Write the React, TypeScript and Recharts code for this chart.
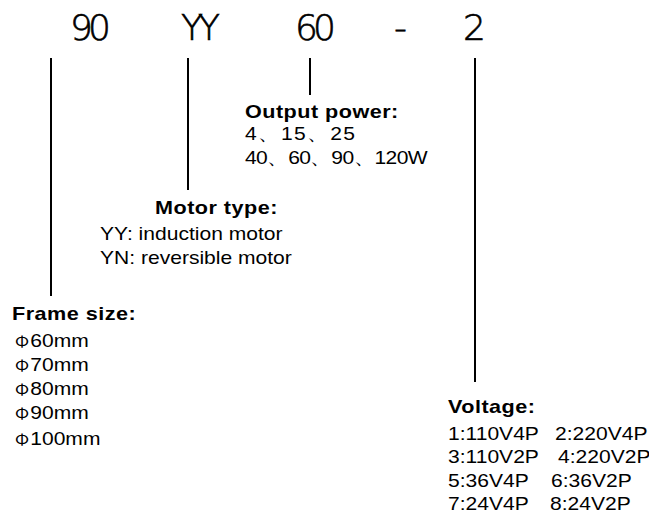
import React from "react";
import { ScatterChart, Scatter, XAxis, YAxis, ReferenceLine } from "recharts";

const WIDTH = 649;
const HEIGHT = 522;

// model code across the top
const codeParts = ["90", "YY", "60", "-", "2"];
const codeX = [88, 198, 313, 398, 472];
const codeY = [40, 40, 40, 40, 40];

// vertical leaders from each code part
const leaderX = [51, 188, 310, 475];
const leaderTop = [58, 58, 58, 58];
const leaderBottom = [296, 190, 95, 382];

const headings = ["Output power:", "Motor type:", "Frame size:", "Voltage:"];
const headingX = [245, 155, 12, 448];
const headingY = [118, 214, 320, 413];

const powerSmall = ["4、15、25"];
const powerLarge = ["40、60、90、120W"];
const motorLines = ["YY: induction motor", "YN: reversible motor"];
const frameSizes = ["60mm", "70mm", "80mm", "90mm", "100mm"];
const voltageLeft = ["1:110V4P", "3:110V2P", "5:36V4P", "7:24V4P"];
const voltageRight = ["2:220V4P", "4:220V2P", "6:36V2P", "8:24V2P"];

const powerY = [140, 164];
const motorY = [240, 264];
const frameY = [347, 371, 395, 419, 445];
const voltageY = [440, 463, 487, 510];
const voltageRightX = [555, 558, 551, 550];

const bodyFont = "'Liberation Sans', Arial, sans-serif";
const STRETCH = 1.17;

const codeData = codeParts.map((text, i) => ({ x: codeX[i], y: codeY[i], text }));
const headingData = headings.map((text, i) => ({ x: headingX[i], y: headingY[i], text }));
const powerSmallData = powerSmall.map((text) => ({ x: 245, y: powerY[0], text }));
const powerLargeData = powerLarge.map((text) => ({ x: 245, y: powerY[1], text }));
const bodyData = [
  ...motorLines.map((text, i) => ({ x: 100, y: motorY[i], text })),
  ...voltageLeft.map((text, i) => ({ x: 448, y: voltageY[i], text })),
  ...voltageRight.map((text, i) => ({ x: voltageRightX[i], y: voltageY[i], text })),
];
const frameData = frameSizes.map((text, i) => ({ x: 15, y: frameY[i], text }));

function CodeText(props: any) {
  const { cx, cy, payload } = props;
  return (
    <text
      x={cx}
      y={cy}
      textAnchor="middle"
      fontFamily="'DejaVu Sans', sans-serif"
      fontWeight={200}
      fontSize={36}
      letterSpacing={-5}
      fill="#000"
      stroke="#000"
      strokeWidth={0.6}
    >
      {payload.text}
    </text>
  );
}

function stretched(cx: number, cy: number, scale = STRETCH) {
  return `translate(${cx},${cy}) scale(${scale},1)`;
}

function HeadingText(props: any) {
  const { cx, cy, payload } = props;
  return (
    <text
      transform={stretched(cx, cy, 1.2)}
      fontFamily={bodyFont}
      fontWeight="bold"
      fontSize={18}
      letterSpacing={0.4}
      fill="#000"
    >
      {payload.text}
    </text>
  );
}

function BodyText(props: any) {
  const { cx, cy, payload } = props;
  return (
    <text transform={stretched(cx, cy)} fontFamily={bodyFont} fontSize={18} fill="#000">
      {payload.text}
    </text>
  );
}

function PowerSmallText(props: any) {
  const { cx, cy, payload } = props;
  return (
    <text transform={stretched(cx, cy)} fontFamily={bodyFont} fontSize={18} letterSpacing={1.2} fill="#000">
      {payload.text}
    </text>
  );
}

function PowerLargeText(props: any) {
  const { cx, cy, payload } = props;
  return (
    <text transform={stretched(cx, cy)} fontFamily={bodyFont} fontSize={18} letterSpacing={-0.5} fill="#000">
      {payload.text}
    </text>
  );
}

function FrameText(props: any) {
  const { cx, cy, payload } = props;
  return (
    <text transform={stretched(cx, cy)} fontFamily={bodyFont} fontSize={18} fill="#000">
      <tspan fontFamily="'Noto Sans CJK SC', sans-serif" fontSize={15}>
        Φ
      </tspan>
      <tspan dx={1}>{payload.text}</tspan>
    </text>
  );
}

export default function App() {
  return (
    <div style={{ position: "absolute", left: 0, top: 0, background: "#fff" }}>
      <ScatterChart width={WIDTH} height={HEIGHT} margin={{ top: 0, right: 0, bottom: 0, left: 0 }}>
        <XAxis type="number" dataKey="x" domain={[0, WIDTH]} hide />
        <YAxis type="number" dataKey="y" domain={[0, HEIGHT]} reversed hide />
        {leaderX.map((x, i) => (
          <ReferenceLine
            key={i}
            segment={[
              { x, y: leaderTop[i] },
              { x, y: leaderBottom[i] },
            ]}
            stroke="#000"
            strokeWidth={2}
          />
        ))}
        <Scatter data={codeData} shape={CodeText} isAnimationActive={false} />
        <Scatter data={headingData} shape={HeadingText} isAnimationActive={false} />
        <Scatter data={powerSmallData} shape={PowerSmallText} isAnimationActive={false} />
        <Scatter data={powerLargeData} shape={PowerLargeText} isAnimationActive={false} />
        <Scatter data={bodyData} shape={BodyText} isAnimationActive={false} />
        <Scatter data={frameData} shape={FrameText} isAnimationActive={false} />
      </ScatterChart>
    </div>
  );
}
